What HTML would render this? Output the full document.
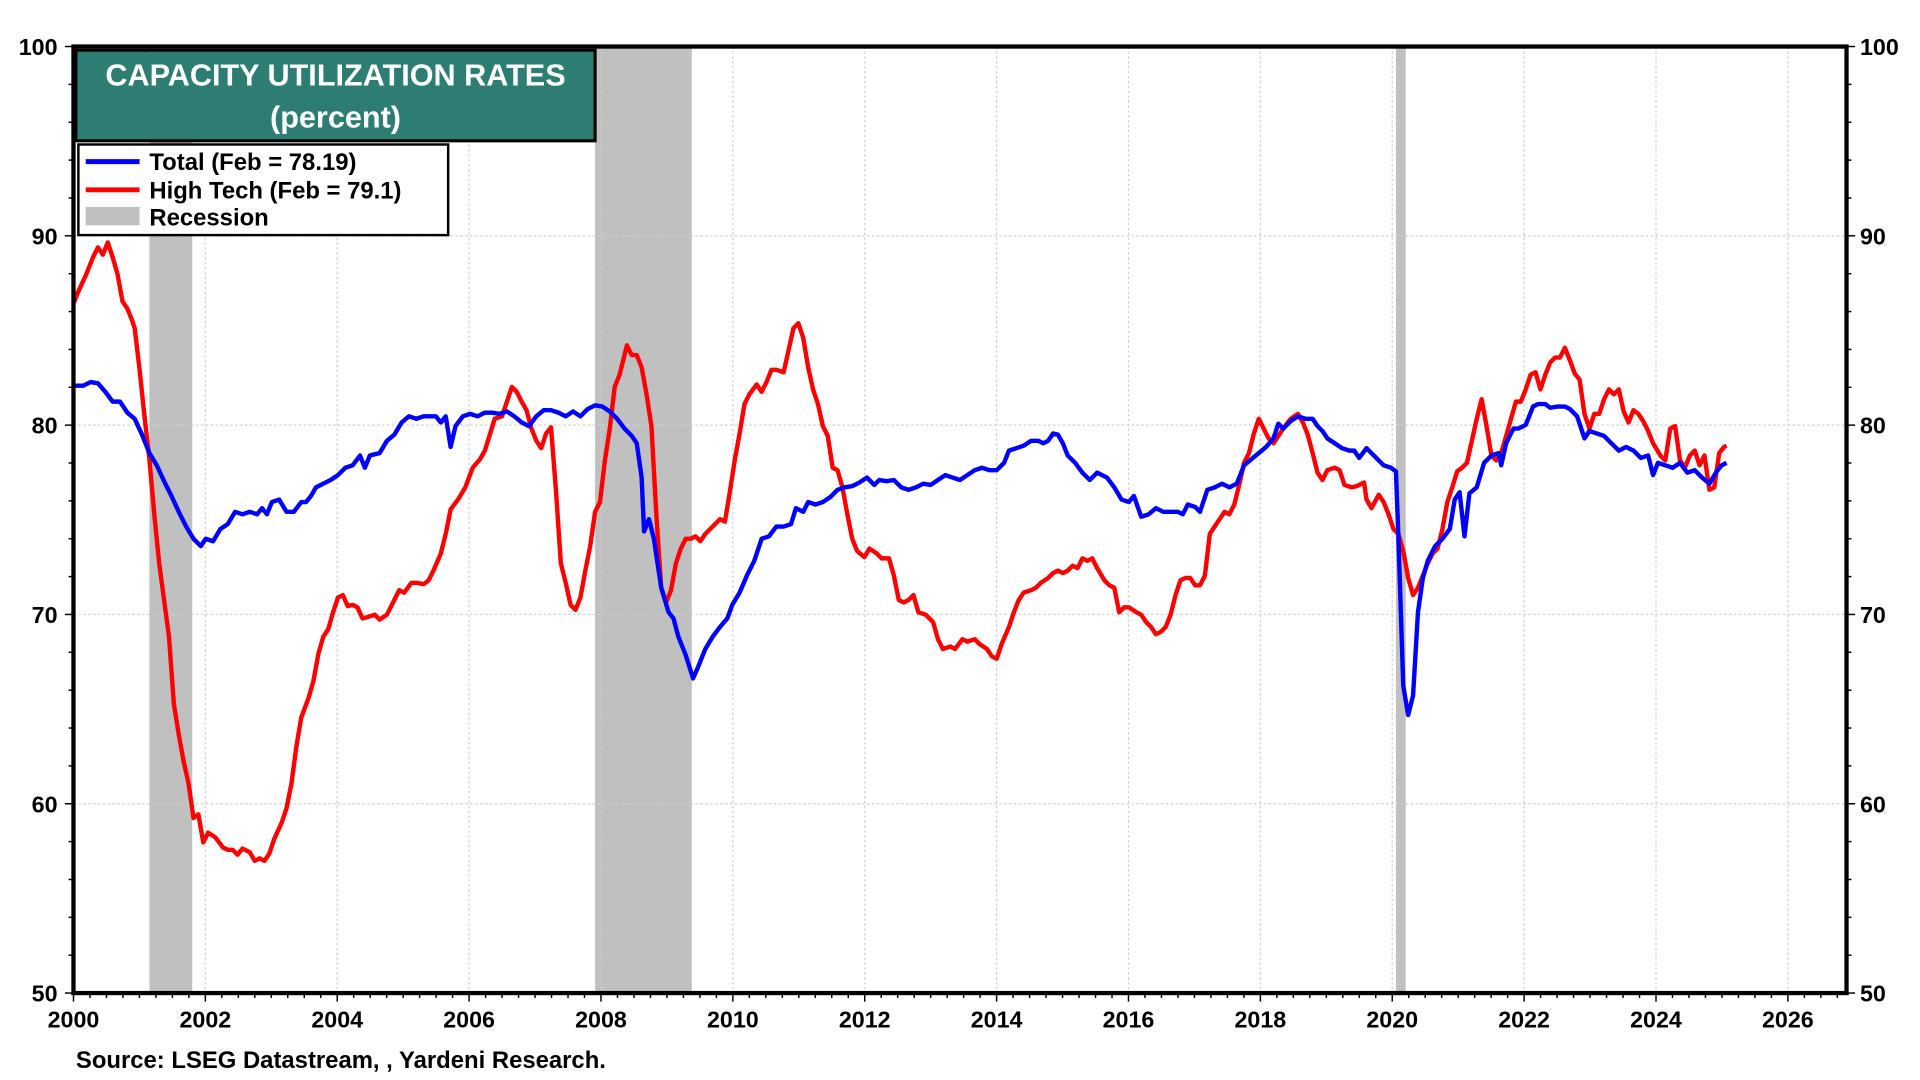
<!DOCTYPE html>
<html><head><meta charset="utf-8"><style>
html,body{margin:0;padding:0;background:#fff;}
svg{display:block;font-family:"Liberation Sans",Arial,sans-serif;font-weight:bold;}
</style></head><body>
<svg id="s" width="1920" height="1080" viewBox="0 0 1568 882" xmlns="http://www.w3.org/2000/svg">
<rect width="1568" height="882" fill="#fff"/>
<g fill="#c0c0c0">
<rect x="122" y="38" width="35" height="773"/>
<rect x="486" y="38" width="79" height="773"/>
<rect x="1140" y="38" width="8" height="773"/>
</g>
<g id="grid" stroke="#d0d0d0" stroke-width="1" stroke-dasharray="2,2"></g>
<g id="ticks" stroke="#000" stroke-width="1.2"></g>
<g id="lbl" font-size="19" fill="#000"></g>
<polyline id="red" fill="none" stroke="#ff0000" stroke-width="3.6" stroke-linejoin="round"/>
<polyline id="blue" fill="none" stroke="#0000ff" stroke-width="3.6" stroke-linejoin="round"/>
<rect x="60" y="38" width="1448" height="773" fill="none" stroke="#000" stroke-width="3.5"/>
<rect x="62" y="41" width="424" height="74" fill="#2e7d72" stroke="#000" stroke-width="2.5"/>
<text x="274" y="70" font-size="25" fill="#fff" text-anchor="middle">CAPACITY UTILIZATION RATES</text>
<text x="274" y="104" font-size="25" fill="#fff" text-anchor="middle">(percent)</text>
<rect x="64" y="118" width="302" height="74" fill="#fff" stroke="#000" stroke-width="2"/>
<line x1="70" y1="132" x2="114" y2="132" stroke="#0000ff" stroke-width="4"/>
<line x1="70" y1="155" x2="114" y2="155" stroke="#ff0000" stroke-width="4"/>
<rect x="70" y="169" width="44" height="15" fill="#c0c0c0"/>
<text x="122" y="139" font-size="19.5">Total (Feb = 78.19)</text>
<text x="122" y="162" font-size="19.5">High Tech (Feb = 79.1)</text>
<text x="122" y="184" font-size="19.5">Recession</text>
<text x="62" y="872" font-size="19.5">Source: LSEG Datastream, , Yardeni Research.</text>
</svg>
<script>
var ns="http://www.w3.org/2000/svg";
function el(p,t,a,txt){var e=document.createElementNS(ns,t);for(var k in a)e.setAttribute(k,a[k]);if(txt)e.textContent=txt;document.getElementById(p).appendChild(e);}
var X0=60,PX=53.85,Y0=811,PY=15.46;
for(var y=2000;y<=2026;y+=2){var x=X0+(y-2000)*PX;if(y>2000)el('grid','line',{x1:x,y1:38,x2:x,y2:811});el('lbl','text',{x:x,y:839,'text-anchor':'middle'},''+y);}
for(var q=0;q<=107;q++){var x=X0+q*PX/4;el('ticks','line',{x1:x,y1:811,x2:x,y2:(q%8==0?818:815)});}
for(var v=50;v<=100;v+=2){var yy=Y0-(v-50)*PY;var L=(v%10==0)?7:4;el('ticks','line',{x1:60-L,y1:yy,x2:60,y2:yy});el('ticks','line',{x1:1508,y1:yy,x2:1508+L,y2:yy});
if(v%10==0){if(v>50&&v<100)el('grid','line',{x1:60,y1:yy,x2:1508,y2:yy});el('lbl','text',{x:47,y:yy+7,'text-anchor':'end'},''+v);el('lbl','text',{x:1519,y:yy+7},''+v);}}
var blue="60,315 68,315 74,312 80,313 86,320 92,328 98,328 104,337 110,342 116,355 122,370 128,380 134,393 140,405 146,418 152,430 158,440 164,446 168,440 174,442 180,432 186,428 192,418 198,420 204,418 210,420 214,415 218,420 222,410 228,408 234,418 240,418 246,410 250,410 254,405 258,398 264,395 270,392 276,388 282,382 288,380 294,372 298,382 302,372 310,370 316,360 322,355 328,345 334,340 340,342 346,340 352,340 356,340 360,345 364,340 368,365 372,348 378,340 384,338 390,340 396,337 402,337 408,338 414,336 420,340 426,345 432,348 438,340 444,335 450,335 456,337 462,340 468,336 474,340 480,334 486,331 492,332 498,336 504,342 510,350 516,356 520,362 524,390 526,434 530,424 534,440 540,480 546,500 550,505 554,520 560,535 566,554 570,545 576,530 582,520 588,512 594,505 598,494 604,484 610,470 616,458 618,452 622,440 628,438 634,430 640,430 646,428 650,415 656,418 660,410 666,412 672,410 678,406 684,400 690,398 696,397 702,394 708,390 714,396 718,392 724,393 730,392 736,398 742,400 748,398 754,395 760,396 766,392 772,388 778,390 784,392 790,388 796,384 802,382 808,384 814,384 820,378 824,368 830,366 836,364 842,360 848,360 852,362 856,360 860,354 864,355 868,362 872,372 878,378 884,386 890,392 896,386 904,390 910,398 916,408 922,410 926,405 932,422 938,420 944,415 950,418 956,418 962,418 966,420 970,412 976,414 980,418 986,400 992,398 998,395 1004,398 1010,395 1016,380 1022,375 1028,370 1034,365 1040,358 1044,346 1048,350 1054,344 1060,340 1066,342 1072,342 1076,348 1080,352 1084,358 1090,362 1096,366 1102,368 1106,368 1110,374 1116,366 1122,372 1126,376 1130,380 1136,382 1140,385 1142,438 1146,560 1150,584 1154,568 1158,500 1162,472 1166,458 1172,446 1178,440 1184,432 1188,408 1192,402 1196,438 1200,403 1206,398 1212,378 1218,372 1224,370 1226,380 1230,362 1236,350 1240,350 1246,347 1252,332 1256,330 1262,330 1266,333 1272,332 1278,332 1282,334 1288,340 1294,358 1298,352 1304,354 1310,356 1316,362 1322,368 1328,365 1334,368 1340,374 1346,372 1350,388 1354,378 1360,380 1366,382 1372,378 1378,386 1384,384 1390,390 1396,395 1402,385 1406,380 1410,378";
var red="60,248 64,238 70,225 76,210 80,202 84,208 88,198 92,210 96,224 100,246 104,252 108,262 110,268 114,302 118,340 122,375 126,420 130,460 134,490 138,520 142,575 146,600 150,622 154,640 158,668 162,665 166,688 170,680 176,684 182,692 186,694 190,694 194,698 198,693 204,696 208,703 212,701 216,703 220,697 224,685 230,672 234,660 238,640 242,610 246,586 252,570 256,556 260,534 264,520 268,514 272,500 276,488 280,486 284,495 288,494 292,496 296,505 300,504 306,502 310,506 316,502 322,490 326,482 330,484 336,476 340,476 346,477 350,474 354,466 360,452 364,436 368,416 374,408 380,398 386,382 392,375 396,368 400,355 404,342 410,340 414,328 418,316 422,320 426,328 430,335 434,350 438,360 442,366 446,354 450,349 454,400 458,460 462,476 466,494 470,498 474,488 478,466 482,446 486,418 490,410 494,376 498,350 502,316 506,306 512,282 516,290 520,290 524,300 528,322 532,348 536,420 540,480 544,492 548,482 552,460 556,448 560,440 564,440 568,438 572,442 576,436 582,430 588,424 592,426 596,402 600,376 604,354 608,330 612,322 618,314 622,320 626,312 630,302 634,302 640,304 644,286 648,268 652,264 656,276 660,300 664,318 668,330 672,348 676,356 680,382 684,384 688,398 692,420 696,440 700,450 706,455 710,448 716,452 720,456 726,456 730,470 734,490 738,492 742,490 746,486 750,500 756,502 762,508 766,522 770,530 776,528 780,530 786,522 790,524 796,522 800,526 806,530 810,536 814,538 818,526 824,512 828,500 832,490 836,484 842,482 846,480 850,476 856,472 860,468 864,466 868,468 872,466 876,462 880,464 884,456 888,458 892,456 896,464 902,474 906,478 910,480 914,500 918,496 922,496 928,500 932,502 936,508 940,512 944,518 948,516 952,512 956,502 960,486 964,474 968,472 972,472 976,478 980,478 984,470 988,436 992,430 996,424 1000,418 1004,420 1008,412 1012,396 1016,378 1020,370 1024,354 1028,342 1032,350 1036,358 1040,362 1044,356 1048,350 1054,342 1060,338 1064,345 1068,355 1072,370 1076,386 1080,392 1084,384 1090,382 1094,384 1098,396 1104,398 1108,397 1114,394 1116,408 1120,415 1126,404 1130,410 1134,420 1138,432 1142,436 1146,450 1150,472 1154,486 1158,480 1162,470 1166,460 1170,452 1174,448 1178,432 1182,410 1186,398 1190,385 1194,382 1198,378 1202,360 1206,342 1210,326 1214,348 1218,372 1222,376 1226,370 1230,356 1234,342 1238,328 1242,328 1246,318 1250,306 1254,304 1258,318 1262,306 1266,296 1270,292 1274,292 1278,284 1282,294 1286,305 1290,310 1294,338 1298,350 1302,338 1306,338 1310,326 1314,318 1318,322 1322,318 1326,336 1330,345 1334,335 1338,338 1342,344 1346,352 1350,362 1356,372 1360,376 1364,350 1368,348 1372,376 1376,382 1380,372 1384,368 1388,380 1392,372 1396,400 1400,398 1404,370 1408,365 1410,364";
document.getElementById('blue').setAttribute('points',blue);
document.getElementById('red').setAttribute('points',red);
</script>
</body></html>
